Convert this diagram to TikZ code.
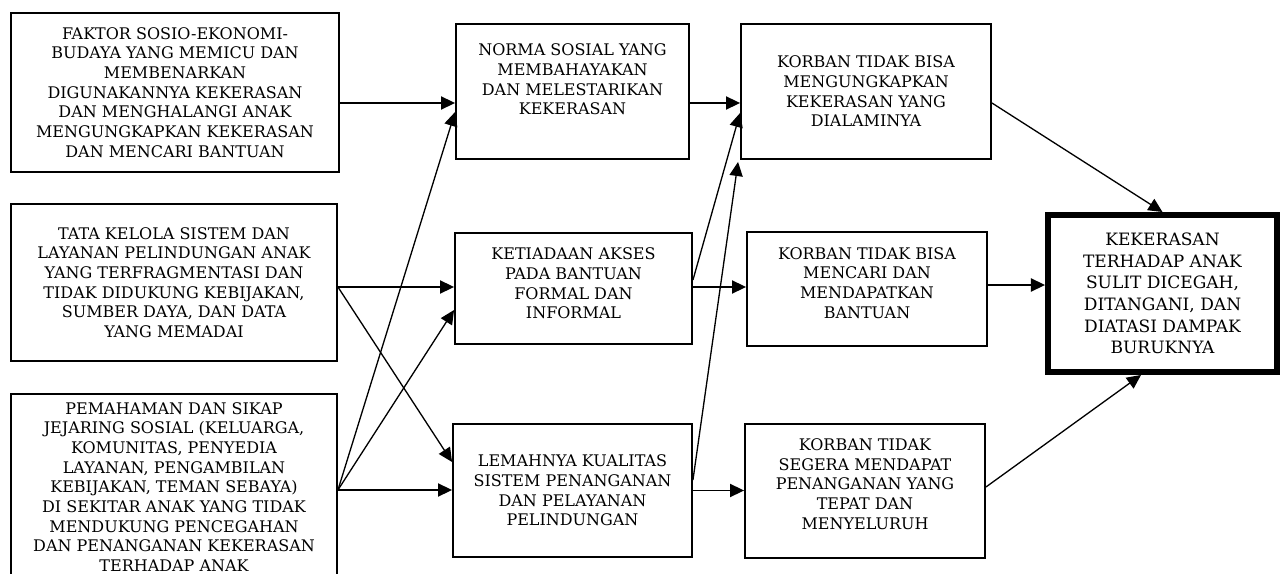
\documentclass[tikz,border=0pt]{standalone}
\usepackage{fontspec}
\setmainfont{DejaVu Serif}
\usetikzlibrary{arrows.meta}

\begin{document}
\begin{tikzpicture}[x=0.02cm, y=-0.02cm,
		caja/.style={draw, line width=1.1pt, inner sep=0pt, align=center, font=\fontsize{9.1}{11.2}\selectfont},
		texto/.style={align=center, font=\fontsize{9.1}{11.2}\selectfont},
		flecha/.style={line width=0.75pt, -{Triangle[length=8pt, width=7.5pt]}}]
		\clip (0,0) rectangle (1284,574);
		%kolom kiri
		\node[caja, minimum width=6.56cm, minimum height=3.18cm] (f1) at (175,92.5) {FAKTOR SOSIO-EKONOMI-\\BUDAYA YANG MEMICU DAN\\MEMBENARKAN\\DIGUNAKANNYA KEKERASAN\\DAN MENGHALANGI ANAK\\MENGUNGKAPKAN KEKERASAN\\DAN MENCARI BANTUAN};
		\node[caja, minimum width=6.52cm, minimum height=3.14cm] (f2) at (174,282.5) {TATA KELOLA SISTEM DAN\\LAYANAN PELINDUNGAN ANAK\\YANG TERFRAGMENTASI DAN\\TIDAK DIDUKUNG KEBIJAKAN,\\SUMBER DAYA, DAN DATA\\YANG MEMADAI};
		\node[caja, minimum width=6.52cm, minimum height=3.72cm] (f3) at (174,487) {PEMAHAMAN DAN SIKAP\\JEJARING SOSIAL (KELUARGA,\\KOMUNITAS, PENYEDIA\\LAYANAN, PENGAMBILAN\\KEBIJAKAN, TEMAN SEBAYA)\\DI SEKITAR ANAK YANG TIDAK\\MENDUKUNG PENCEGAHAN\\DAN PENANGANAN KEKERASAN\\TERHADAP ANAK};
		%kolom tengah
		\node[caja, minimum width=4.66cm, minimum height=2.70cm, label={[texto, yshift=0.24cm]center:{NORMA SOSIAL YANG\\MEMBAHAYAKAN\\DAN MELESTARIKAN\\KEKERASAN}}] (m1) at (572.5,91.5) {};
		\node[caja, minimum width=4.74cm, minimum height=2.22cm, label={[texto, yshift=0.1cm]center:{KETIADAAN AKSES\\PADA BANTUAN\\FORMAL DAN\\INFORMAL}}] (m2) at (573.5,288.5) {};
		\node[caja, minimum width=4.78cm, minimum height=2.66cm] (m3) at (572.5,490.5) {LEMAHNYA KUALITAS\\SISTEM PENANGANAN\\DAN PELAYANAN\\PELINDUNGAN};
		%kolom korban
		\node[caja, minimum width=5.0cm, minimum height=2.70cm] (r1) at (866,91.5) {KORBAN TIDAK BISA\\MENGUNGKAPKAN\\KEKERASAN YANG\\DIALAMINYA};
		\node[caja, minimum width=4.80cm, minimum height=2.28cm, label={[texto, yshift=0.12cm]center:{KORBAN TIDAK BISA\\MENCARI DAN\\MENDAPATKAN\\BANTUAN}}] (r2) at (867,289) {};
		\node[caja, minimum width=4.80cm, minimum height=2.68cm, label={[texto, yshift=0.14cm]center:{KORBAN TIDAK\\SEGERA MENDAPAT\\PENANGANAN YANG\\TEPAT DAN\\MENYELURUH}}] (r3) at (865,491) {};
		\node[caja, line width=3.4pt, minimum width=4.58cm, minimum height=3.14cm, font=\fontsize{9.7}{12.3}\selectfont] (fin) at (1162.5,293.5) {KEKERASAN\\TERHADAP ANAK\\SULIT DICEGAH,\\DITANGANI, DAN\\DIATASI DAMPAK\\BURUKNYA};
		%panah
		\draw[flecha] ([yshift=-0.21cm]f1.east) -- ([yshift=-0.21cm]f1.east -| m1.west);
		\draw[flecha] ([yshift=-0.09cm]f2.east) -- ([yshift=-0.09cm]f2.east -| m2.west);
		\draw[flecha] ([yshift=-0.09cm]f2.east) -- ([yshift=0.57cm]m3.west);
		\draw[flecha] ([yshift=-0.06cm]f3.east) -- ([yshift=-0.41cm]m1.west);
		\draw[flecha] ([yshift=-0.06cm]f3.east) -- ([yshift=-0.43cm]m2.west);
		\draw[flecha] ([yshift=-0.06cm]f3.east) -- ([yshift=-0.06cm]f3.east -| m3.west);
		\draw[flecha] ([yshift=-0.23cm]m1.east) -- ([yshift=-0.23cm]m1.east -| r1.west);
		\draw[flecha] ([yshift=0.17cm]m2.east) -- ([yshift=-0.43cm]r1.west);
		\draw[flecha] ([yshift=0.21cm]m3.east) -- ([xshift=-0.04cm, yshift=-0.04cm]r1.south west);
		\draw[flecha] ([yshift=0.03cm]m2.east) -- ([yshift=0.03cm]m2.east -| r2.west);
		\draw[flecha] (m3.east) -- (m3.east -| r3.west);
		\draw[flecha] ([yshift=-0.23cm]r1.east) -- (fin.north);
		\draw[flecha] ([yshift=0.08cm]r2.east) -- ([yshift=0.08cm]r2.east -| fin.west);
		\draw[flecha] ([yshift=0.08cm]r3.east) -- ([xshift=-0.43cm]fin.south);
	\end{tikzpicture}
\end{document}
